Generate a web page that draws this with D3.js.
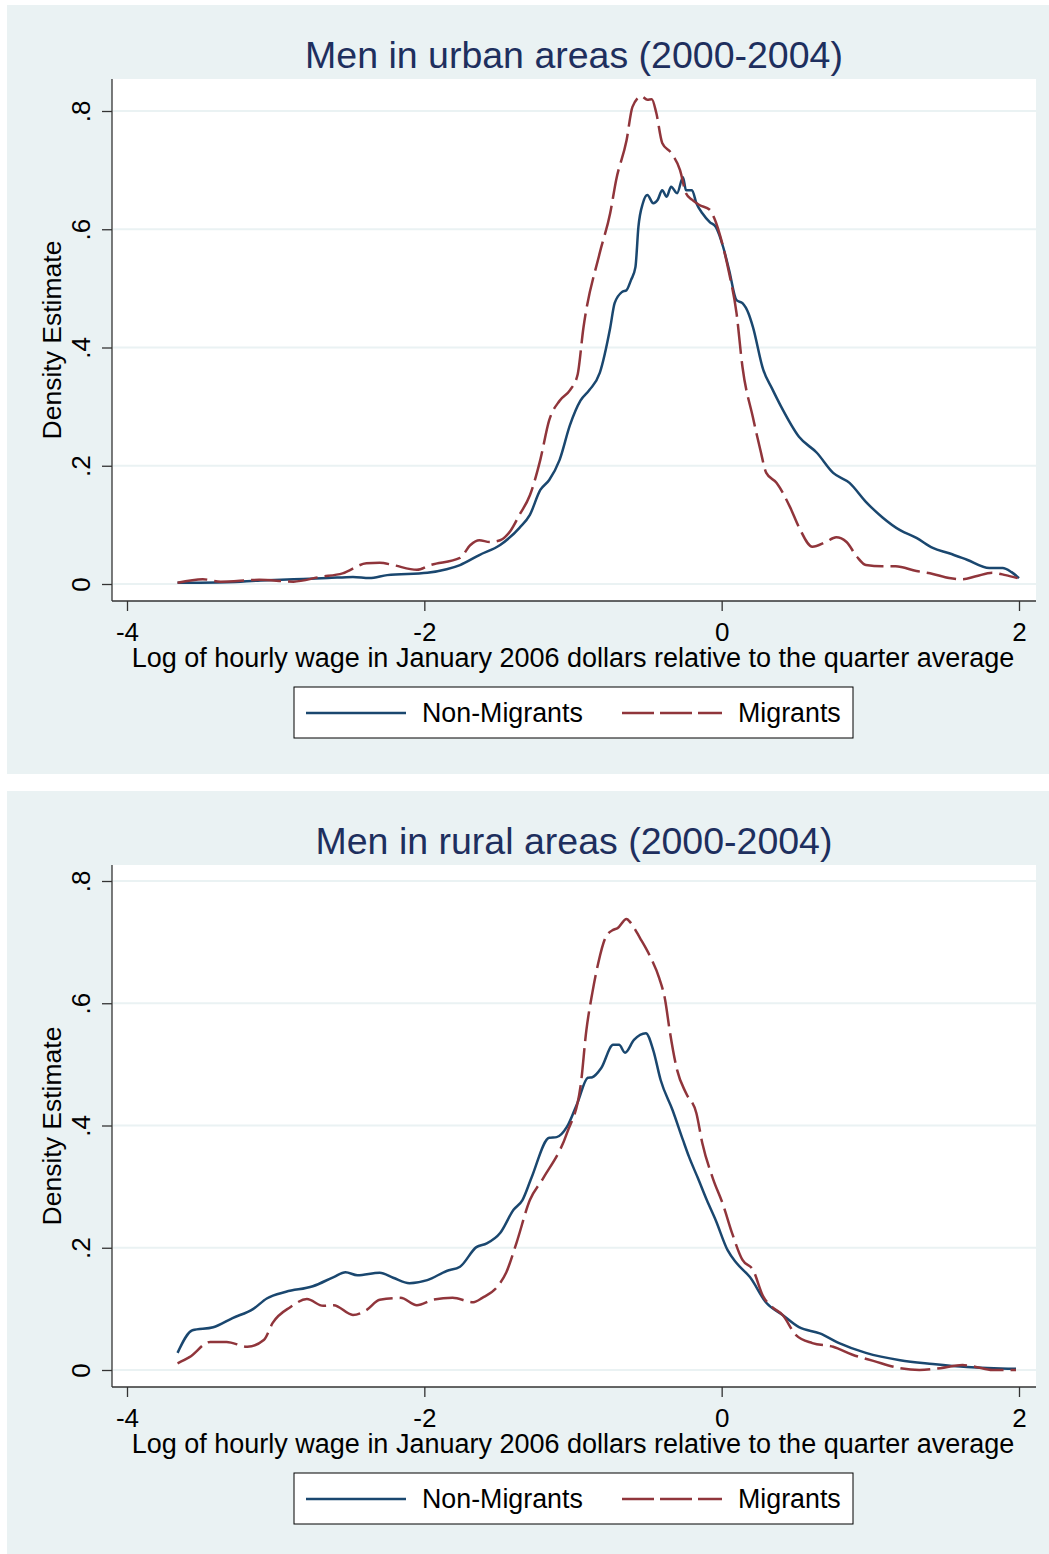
<!DOCTYPE html>
<html>
<head>
<meta charset="utf-8">
<script src="https://cdn.jsdelivr.net/npm/d3@7"></script>
<style>
  body { margin: 0; background: #ffffff; }
  text { font-family: "Liberation Sans", Arial, sans-serif; }
</style>
</head>
<body>
<svg id="main-svg" width="1049" height="1554"></svg>
<script>
// tick values and labels
const xTicks = [-4, -2, 0, 2];
const xTickLabels = ["-4", "-2", "0", "2"];
const yTicks = [0, 0.2, 0.4, 0.6, 0.8];
const yTickLabels = ["0", ".2", ".4", ".6", ".8"];
const seriesNames = ["Non-Migrants", "Migrants"];

// kernel density curves: [log wage, density]
const urbanNonMigrants = [[-3.66,0.002],[-3.33,0.003],[-3.1,0.006],[-2.88,0.008],[-2.65,0.010],[-2.48,0.012],[-2.37,0.010],[-2.25,0.015],[-1.98,0.019],[-1.85,0.025],[-1.76,0.032],[-1.63,0.049],[-1.49,0.066],[-1.36,0.095],[-1.29,0.117],[-1.22,0.159],[-1.16,0.176],[-1.09,0.21],[-1.02,0.269],[-0.95,0.31],[-0.89,0.328],[-0.82,0.357],[-0.75,0.433],[-0.72,0.475],[-0.67,0.494],[-0.64,0.497],[-0.61,0.514],[-0.58,0.536],[-0.56,0.604],[-0.53,0.644],[-0.50,0.658],[-0.46,0.644],[-0.43,0.65],[-0.40,0.666],[-0.37,0.655],[-0.34,0.672],[-0.30,0.661],[-0.26,0.688],[-0.24,0.666],[-0.20,0.666],[-0.17,0.644],[-0.13,0.627],[-0.08,0.612],[-0.04,0.604],[0.01,0.57],[0.05,0.531],[0.10,0.48],[0.14,0.475],[0.18,0.458],[0.21,0.435],[0.28,0.362],[0.34,0.33],[0.40,0.30],[0.52,0.249],[0.64,0.222],[0.75,0.188],[0.86,0.171],[0.97,0.139],[1.08,0.113],[1.20,0.091],[1.31,0.078],[1.42,0.061],[1.53,0.052],[1.65,0.041],[1.80,0.027],[1.89,0.027],[1.95,0.02],[2.0,0.01]];
const urbanMigrants = [[-3.66,0.002],[-3.49,0.008],[-3.37,0.004],[-3.11,0.007],[-2.88,0.004],[-2.70,0.012],[-2.55,0.018],[-2.39,0.035],[-2.30,0.036],[-2.21,0.032],[-2.05,0.024],[-1.96,0.032],[-1.76,0.044],[-1.69,0.066],[-1.63,0.074],[-1.56,0.071],[-1.49,0.074],[-1.42,0.09],[-1.36,0.117],[-1.29,0.15],[-1.22,0.21],[-1.16,0.277],[-1.09,0.31],[-1.02,0.328],[-0.97,0.353],[-0.93,0.433],[-0.82,0.56],[-0.75,0.627],[-0.71,0.683],[-0.64,0.75],[-0.60,0.807],[-0.54,0.825],[-0.50,0.819],[-0.47,0.82],[-0.44,0.797],[-0.40,0.746],[-0.34,0.729],[-0.28,0.70],[-0.24,0.661],[-0.20,0.65],[-0.15,0.641],[-0.08,0.633],[-0.05,0.619],[0.01,0.57],[0.05,0.526],[0.10,0.458],[0.14,0.367],[0.21,0.282],[0.26,0.227],[0.30,0.188],[0.37,0.171],[0.46,0.13],[0.52,0.096],[0.61,0.063],[0.70,0.071],[0.77,0.079],[0.84,0.071],[0.91,0.046],[0.97,0.032],[1.08,0.030],[1.17,0.030],[1.31,0.022],[1.42,0.017],[1.53,0.010],[1.62,0.008],[1.71,0.013],[1.82,0.019],[1.91,0.015],[1.99,0.010]];
const ruralNonMigrants = [[-3.66,0.028],[-3.56,0.065],[-3.42,0.07],[-3.29,0.085],[-3.15,0.10],[-3.06,0.117],[-2.93,0.128],[-2.75,0.137],[-2.61,0.152],[-2.53,0.16],[-2.45,0.155],[-2.30,0.159],[-2.21,0.151],[-2.10,0.142],[-1.98,0.147],[-1.85,0.162],[-1.76,0.169],[-1.65,0.201],[-1.58,0.207],[-1.49,0.224],[-1.40,0.262],[-1.34,0.278],[-1.28,0.314],[-1.16,0.38],[-1.11,0.381],[-1.04,0.398],[-0.97,0.437],[-0.90,0.478],[-0.87,0.479],[-0.81,0.494],[-0.73,0.532],[-0.69,0.532],[-0.65,0.519],[-0.59,0.54],[-0.51,0.551],[-0.46,0.523],[-0.41,0.474],[-0.33,0.425],[-0.26,0.376],[-0.22,0.349],[-0.16,0.314],[-0.10,0.278],[-0.04,0.245],[0.04,0.196],[0.10,0.175],[0.19,0.152],[0.30,0.11],[0.41,0.09],[0.52,0.07],[0.66,0.06],[0.79,0.044],[0.97,0.028],[1.20,0.016],[1.42,0.01],[1.65,0.005],[1.98,0.002]];
const ruralMigrants = [[-3.66,0.011],[-3.58,0.021],[-3.44,0.046],[-3.33,0.046],[-3.19,0.038],[-3.08,0.049],[-3.02,0.077],[-2.90,0.103],[-2.79,0.116],[-2.68,0.105],[-2.61,0.106],[-2.48,0.09],[-2.39,0.098],[-2.30,0.115],[-2.16,0.118],[-2.05,0.106],[-1.94,0.115],[-1.81,0.118],[-1.67,0.111],[-1.61,0.118],[-1.51,0.136],[-1.45,0.159],[-1.38,0.208],[-1.29,0.278],[-1.20,0.314],[-1.04,0.388],[-0.95,0.463],[-0.91,0.556],[-0.87,0.617],[-0.83,0.666],[-0.78,0.708],[-0.73,0.72],[-0.70,0.723],[-0.64,0.738],[-0.61,0.731],[-0.55,0.707],[-0.48,0.676],[-0.42,0.641],[-0.38,0.605],[-0.35,0.556],[-0.30,0.491],[-0.24,0.453],[-0.17,0.42],[-0.13,0.371],[-0.06,0.314],[0.01,0.27],[0.07,0.224],[0.14,0.18],[0.21,0.164],[0.28,0.12],[0.34,0.103],[0.41,0.09],[0.50,0.057],[0.61,0.044],[0.75,0.038],[0.88,0.025],[1.02,0.015],[1.20,0.003],[1.33,0.0],[1.47,0.003],[1.62,0.008],[1.71,0.005],[1.82,0.0],[1.98,0.0]];

const colorNavy = "#1a476f";
const colorMaroon = "#90353b";
const colorBg = "#eaf2f3";
const colorTitle = "#1e2f5e";

const svg = d3.select("#main-svg");

// one graph of the combined figure
function drawPanel(title, nonMig, mig, top, height, plotTop, plotBottom, y0, y8) {
    const g = svg.append("g");
    const left = 112, right = 1036;

    g.append("rect")
        .attr("x", 7).attr("y", top)
        .attr("width", 1042).attr("height", height)
        .attr("fill", colorBg);

    g.append("rect")
        .attr("x", left).attr("y", plotTop)
        .attr("width", right - left).attr("height", plotBottom - plotTop)
        .attr("fill", "white");

    const x = d3.scaleLinear().domain([-4, 2]).range([127, 1019]);
    const y = d3.scaleLinear().domain([0, 0.8]).range([y0, y8]);

    // gridlines
    g.selectAll(".grid")
        .data(yTicks)
        .enter()
        .append("line")
        .attr("x1", left + 1).attr("x2", right)
        .attr("y1", d => y(d)).attr("y2", d => y(d))
        .attr("stroke", colorBg)
        .attr("stroke-width", 2);

    // y axis
    const yAxis = g.append("g")
        .attr("transform", `translate(${left},0)`)
        .call(d3.axisLeft(y).tickValues(yTicks).tickSize(10).tickFormat((d, i) => yTickLabels[i]));
    yAxis.select(".domain").remove();
    yAxis.selectAll(".tick line").attr("stroke", "#333").attr("stroke-width", 1.3);
    yAxis.selectAll(".tick text")
        .attr("font-size", "26px")
        .attr("fill", "black")
        .attr("transform", "rotate(-90)")
        .attr("x", 0)
        .attr("y", -22)
        .attr("dy", 0)
        .style("text-anchor", "middle");
    g.append("line")
        .attr("x1", left).attr("x2", left)
        .attr("y1", plotTop).attr("y2", plotBottom)
        .attr("stroke", "#333").attr("stroke-width", 1.3);

    // x axis
    const xAxis = g.append("g")
        .attr("transform", `translate(0,${plotBottom})`)
        .call(d3.axisBottom(x).tickValues(xTicks).tickSize(10).tickFormat((d, i) => xTickLabels[i]));
    xAxis.select(".domain").remove();
    xAxis.selectAll(".tick line").attr("stroke", "#333").attr("stroke-width", 1.3);
    xAxis.selectAll(".tick text")
        .attr("font-size", "26px")
        .attr("fill", "black")
        .attr("y", 40)
        .attr("dy", 0);
    g.append("line")
        .attr("x1", left).attr("x2", right)
        .attr("y1", plotBottom).attr("y2", plotBottom)
        .attr("stroke", "#333").attr("stroke-width", 1.3);

    // curves
    const line = d3.line()
        .x(d => x(d[0]))
        .y(d => y(d[1]))
        .curve(d3.curveMonotoneX);

    g.append("path")
        .datum(nonMig)
        .attr("d", line)
        .attr("fill", "none")
        .attr("stroke", colorNavy)
        .attr("stroke-width", 2.5);

    g.append("path")
        .datum(mig)
        .attr("d", line)
        .attr("fill", "none")
        .attr("stroke", colorMaroon)
        .attr("stroke-width", 2.5)
        .attr("stroke-dasharray", "30,7");

    // titles
    g.append("text")
        .attr("x", 574).attr("y", top + 63)
        .attr("text-anchor", "middle")
        .attr("font-size", "37.5px")
        .attr("fill", colorTitle)
        .text(title);

    g.append("text")
        .attr("x", 573).attr("y", plotBottom + 66)
        .attr("text-anchor", "middle")
        .attr("font-size", "27px")
        .attr("fill", "black")
        .text("Log of hourly wage in January 2006 dollars relative to the quarter average");

    g.append("text")
        .attr("transform", `translate(61,${(plotTop + plotBottom) / 2}) rotate(-90)`)
        .attr("text-anchor", "middle")
        .attr("font-size", "26.5px")
        .attr("fill", "black")
        .text("Density Estimate");

    // legend
    const legend = g.append("g")
        .attr("transform", `translate(294,${plotBottom + 86})`);
    legend.append("rect")
        .attr("width", 559).attr("height", 51)
        .attr("fill", "white")
        .attr("stroke", "black")
        .attr("stroke-width", 1);
    const items = [
        { x: 12, color: colorNavy, dash: null, label: seriesNames[0] },
        { x: 328, color: colorMaroon, dash: "32,6", label: seriesNames[1] }
    ];
    items.forEach(it => {
        legend.append("line")
            .attr("x1", it.x).attr("x2", it.x + 100)
            .attr("y1", 26).attr("y2", 26)
            .attr("stroke", it.color)
            .attr("stroke-width", 2.5)
            .attr("stroke-dasharray", it.dash);
        legend.append("text")
            .attr("x", it.x + 116).attr("y", 35)
            .attr("font-size", "26.8px")
            .attr("fill", "black")
            .text(it.label);
    });
}

drawPanel("Men in urban areas (2000-2004)", urbanNonMigrants, urbanMigrants, 5, 769, 79, 601, 584, 111);
drawPanel("Men in rural areas (2000-2004)", ruralNonMigrants, ruralMigrants, 791, 763, 865, 1387, 1370, 881);
</script>
</body>
</html>
